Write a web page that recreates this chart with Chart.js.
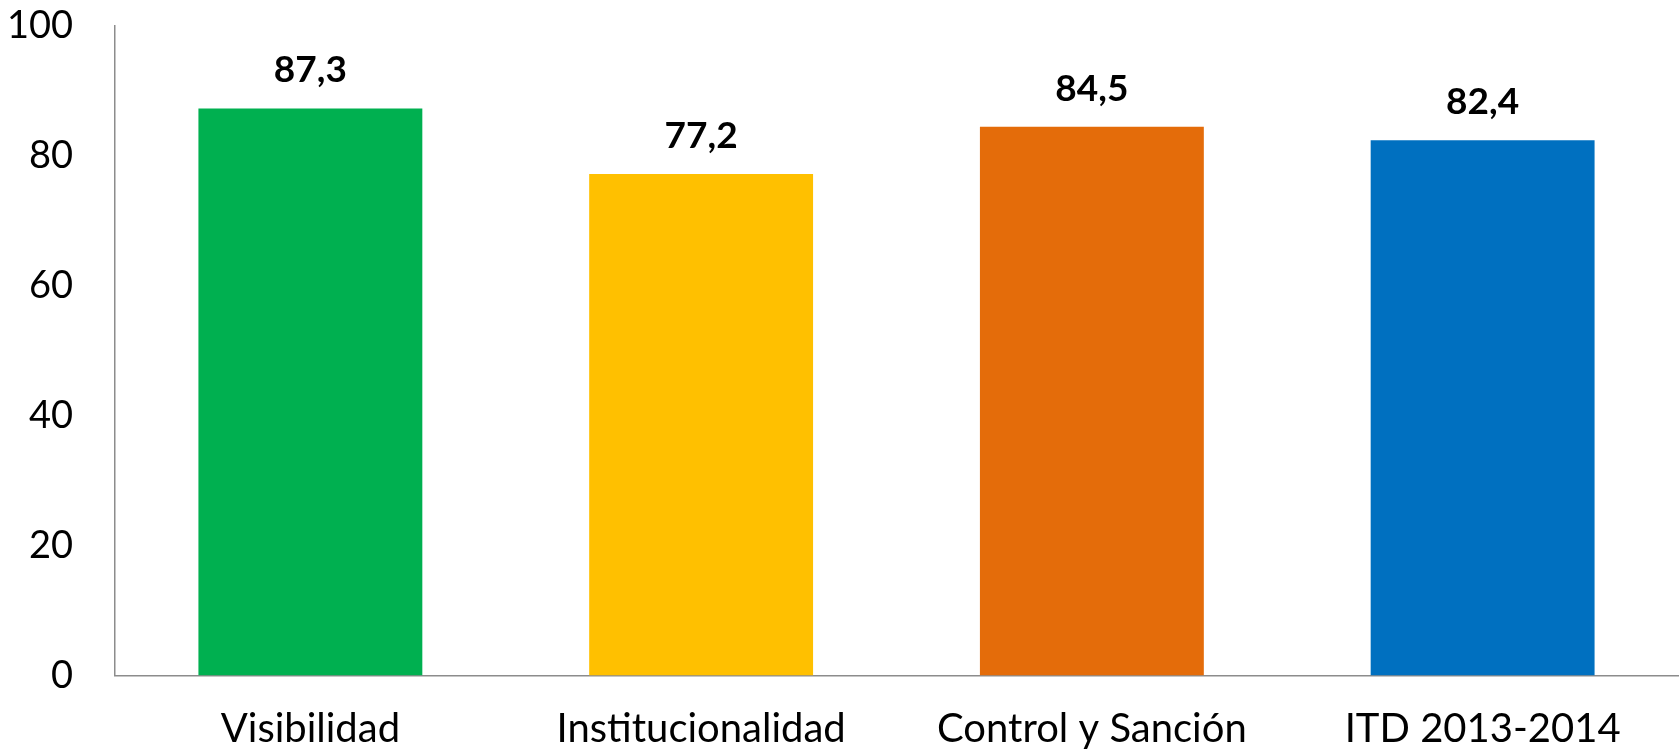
<!DOCTYPE html>
<html>
<head>
<meta charset="utf-8">
<script src="https://cdn.jsdelivr.net/npm/chart.js@4"></script>
<style>
  html, body { margin: 0; padding: 0; background: #fff; }
  #wrap { width: 1680px; height: 751px; }
</style>
</head>
<body>
<div id="wrap"><canvas id="grafico" width="1680" height="751"></canvas></div>
<script>
// Datos del gráfico
const categorias = ['Visibilidad', 'Institucionalidad', 'Control y Sanción', 'ITD 2013-2014'];
const valores = [87.3, 77.2, 84.5, 82.4];
const colores = ['#00B050', '#FFC000', '#E46C0A', '#0070C0'];
const ticksY = [0, 20, 40, 60, 80, 100];

const fuente = 'Lato, "Open Sans", sans-serif';

// Etiquetas de valor sobre las barras (con coma decimal)
const etiquetas = {
  id: 'etiquetas',
  afterDatasetsDraw(chart) {
    const ctx = chart.ctx;
    const meta = chart.getDatasetMeta(0);
    ctx.save();
    ctx.font = 'bold 37px ' + fuente;
    ctx.fillStyle = '#000';
    ctx.textAlign = 'center';
    ctx.textBaseline = 'middle';
    meta.data.forEach((bar, i) => {
      ctx.fillText(valores[i].toFixed(1).replace('.', ','), bar.x, bar.y - 38);
    });
    ctx.restore();
  }
};

new Chart(document.getElementById('grafico'), {
  type: 'bar',
  data: {
    labels: categorias,
    datasets: [{
      data: valores,
      backgroundColor: colores,
      borderWidth: 0,
      categoryPercentage: 1,
      barPercentage: 0.573
    }]
  },
  options: {
    responsive: false,
    animation: false,
    layout: { padding: { top: 26, right: 2, left: 0, bottom: 0 } },
    plugins: {
      legend: { display: false },
      tooltip: { enabled: false }
    },
    scales: {
      x: {
        grid: { display: false, drawTicks: false },
        border: { display: true, color: '#8c8c8c', width: 1.5 },
        ticks: { color: '#000', font: { family: fuente, size: 40 }, padding: 30, maxRotation: 0 },
        afterFit: s => { s.height = 75.5; s.paddingLeft = 0; s.paddingRight = 0; }
      },
      y: {
        min: 0,
        max: 100,
        afterBuildTicks: s => { s.ticks = ticksY.map(v => ({ value: v })); },
        grid: { display: false, drawTicks: false },
        border: { display: true, color: '#8c8c8c', width: 1.5 },
        ticks: { color: '#000', font: { family: fuente, size: 38 }, padding: 42 },
        afterFit: s => { s.width = 115; s.paddingTop = 0; s.paddingBottom = 0; }
      }
    }
  },
  plugins: [etiquetas]
});
</script>
</body>
</html>
